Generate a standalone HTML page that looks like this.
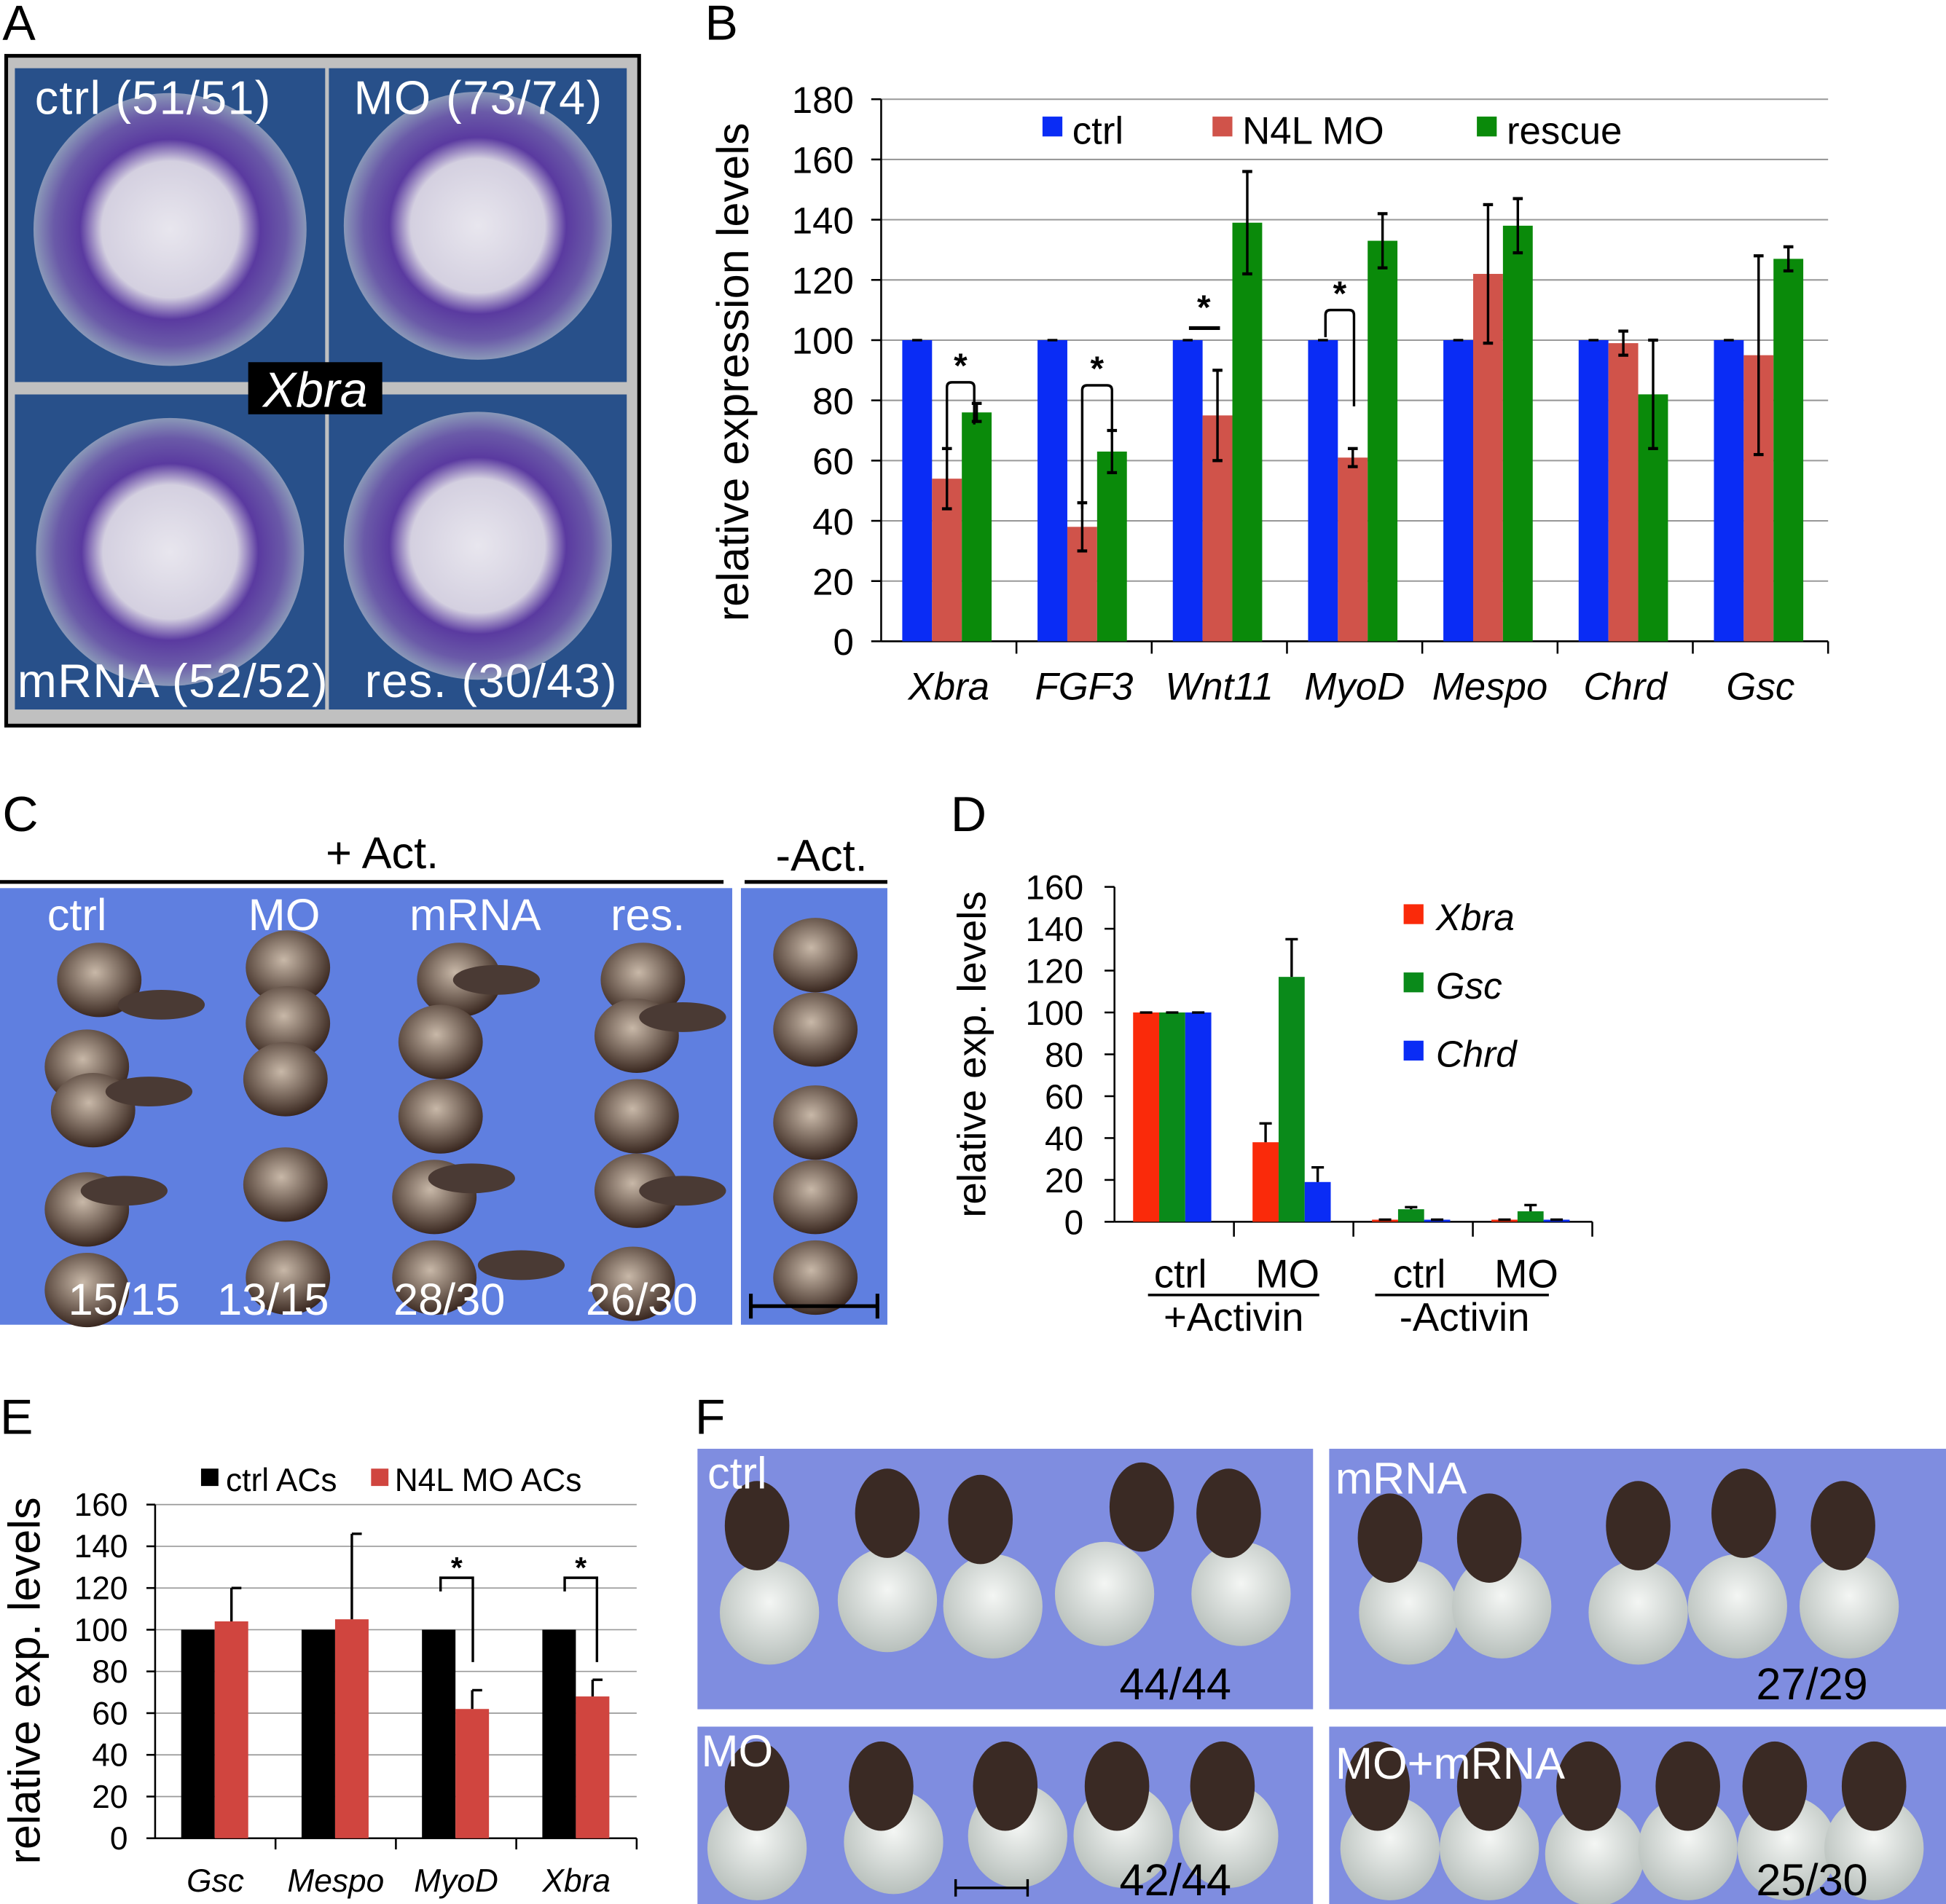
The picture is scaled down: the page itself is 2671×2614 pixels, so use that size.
<!DOCTYPE html>
<html><head><meta charset="utf-8"><style>
html,body{margin:0;padding:0;background:#fff;}
svg{display:block;font-family:"Liberation Sans",Arial,sans-serif;}
</style></head><body>
<svg id="fig" width="2671" height="2614" viewBox="0 0 1568 1535" preserveAspectRatio="none" xmlns="http://www.w3.org/2000/svg">
<defs>
<radialGradient id="embA" cx="50%" cy="50%" r="50%">
<stop offset="0%" stop-color="#e8e6ee"/><stop offset="50%" stop-color="#d4d0e0"/><stop offset="66%" stop-color="#5a3aa0"/><stop offset="85%" stop-color="#6a5aa8"/><stop offset="100%" stop-color="#8a98b8"/></radialGradient>
<radialGradient id="egg" cx="45%" cy="40%" r="60%"><stop offset="0%" stop-color="#c8b8a8"/><stop offset="100%" stop-color="#3a2820"/></radialGradient>
<radialGradient id="wht" cx="50%" cy="40%" r="60%"><stop offset="0%" stop-color="#f4f6f4"/><stop offset="100%" stop-color="#b8c0bc"/></radialGradient>
</defs>
<g id="panel-letters" font-size="40" fill="#000">
<text x="2" y="32">A</text>
<text x="568" y="32">B</text>
<text x="2" y="670">C</text>
<text x="766" y="670">D</text>
<text x="0" y="1156">E</text>
<text x="560" y="1156">F</text>
</g>
<g id="panelA">
<rect x="5" y="45" width="510" height="540" fill="#c0c0c0" stroke="#000" stroke-width="3"/>
<rect x="12" y="55" width="250" height="253" fill="#28508a"/>
<rect x="265" y="55" width="240" height="253" fill="#28508a"/>
<rect x="12" y="318" width="250" height="254" fill="#28508a"/>
<rect x="265" y="318" width="240" height="254" fill="#28508a"/>
<circle cx="137" cy="185" r="110" fill="url(#embA)"/>
<circle cx="385" cy="182" r="108" fill="url(#embA)"/>
<circle cx="137" cy="445" r="108" fill="url(#embA)"/>
<circle cx="385" cy="440" r="108" fill="url(#embA)"/>
<g fill="#fff" font-size="38">
<text x="28" y="92" textLength="190">ctrl (51/51)</text>
<text x="285" y="92" textLength="200">MO (73/74)</text>
<text x="14" y="562" textLength="250">mRNA (52/52)</text>
<text x="294" y="562" textLength="203">res. (30/43)</text>
</g>
<rect x="200" y="292" width="108" height="42" fill="#000"/>
<text x="254" y="328" fill="#fff" font-size="40" font-style="italic" text-anchor="middle">Xbra</text>
</g>
<g id="panelC">
<text x="308" y="700" font-size="36" text-anchor="middle">+ Act.</text>
<line x1="0" y1="711" x2="583" y2="711" stroke="#000" stroke-width="3"/>
<text x="662" y="702" font-size="36" text-anchor="middle">-Act.</text>
<line x1="600" y1="711" x2="715" y2="711" stroke="#000" stroke-width="3"/>
<rect x="0" y="716" width="590" height="352" fill="#5f7fe0"/>
<rect x="597" y="716" width="118" height="352" fill="#5f7fe0"/>
<g id="c-embryos" fill="url(#egg)"></g>
<line x1="605" y1="1053" x2="707" y2="1053" stroke="#000" stroke-width="3"/>
<line x1="605" y1="1043" x2="605" y2="1063" stroke="#000" stroke-width="3"/>
<line x1="707" y1="1043" x2="707" y2="1063" stroke="#000" stroke-width="3"/>
<g fill="#fff" font-size="36">
<text x="38" y="750">ctrl</text><text x="200" y="750">MO</text><text x="330" y="750">mRNA</text><text x="492" y="750">res.</text>
<text x="55" y="1060">15/15</text><text x="175" y="1060">13/15</text><text x="317" y="1060">28/30</text><text x="472" y="1060">26/30</text>
</g>
</g>
<g id="panelF">
<rect x="562" y="1168" width="496" height="210" fill="#7f8de0"/>
<rect x="1071" y="1168" width="497" height="210" fill="#7f8de0"/>
<rect x="562" y="1392" width="496" height="143" fill="#7f8de0"/>
<rect x="1071" y="1392" width="497" height="143" fill="#7f8de0"/>
<g id="f-embryos"></g>
<line x1="770" y1="1522" x2="828" y2="1522" stroke="#000" stroke-width="2"/>
<line x1="770" y1="1515" x2="770" y2="1529" stroke="#000" stroke-width="2"/>
<line x1="828" y1="1515" x2="828" y2="1529" stroke="#000" stroke-width="2"/>
<g fill="#fff" font-size="36"><text x="570" y="1200">ctrl</text><text x="1076" y="1204">mRNA</text><text x="565" y="1424">MO</text><text x="1076" y="1434">MO+mRNA</text></g>
<g fill="#000" font-size="36"><text x="902" y="1370">44/44</text><text x="1415" y="1370">27/29</text><text x="902" y="1528">42/44</text><text x="1415" y="1528">25/30</text></g>
</g>
<g id="chartB"></g>
<g id="chartD"></g>
<g id="chartE"></g>
</svg>
<script>
// Chart B data
const bCats = ["Xbra","FGF3","Wnt11","MyoD","Mespo","Chrd","Gsc"];
const bCtrl = [100,100,100,100,100,100,100];
const bMO = [54,38,75,61,122,99,95];
const bMOErr = [10,8,15,3,23,4,33];
const bRes = [76,63,139,133,138,82,127];
const bResErr = [3,7,17,9,9,18,4];
const bTicks = [0,20,40,60,80,100,120,140,160,180];
const bSeries = ["ctrl","N4L MO","rescue"];
// Chart D data
const dCats = ["ctrl","MO","ctrl","MO"];
const dXbra = [100,38,1,1];
const dXbraErr = [0,9,0,0];
const dGsc = [100,117,6,5];
const dGscErr = [0,18,1,3];
const dChrd = [100,19,1,1];
const dChrdErr = [0,7,0,0];
const dTicks = [0,20,40,60,80,100,120,140,160];
// Chart E data
const eCats = ["Gsc","Mespo","MyoD","Xbra"];
const eCtrl = [100,100,100,100];
const eMO = [104,105,62,68];
const eMOErr = [16,41,9,8];
const eTicks = [0,20,40,60,80,100,120,140,160];

const NS="http://www.w3.org/2000/svg";
function mk(parent,tag,attrs,text){const e=document.createElementNS(NS,tag);for(const k in attrs)e.setAttribute(k,attrs[k]);if(text!==undefined)e.textContent=text;parent.appendChild(e);return e;}
function errBar(g,x,y1,y2,cap){mk(g,"line",{x1:x,y1:y1,x2:x,y2:y2,stroke:"#000","stroke-width":2});mk(g,"line",{x1:x-cap,y1:y1,x2:x+cap,y2:y1,stroke:"#000","stroke-width":2.5});mk(g,"line",{x1:x-cap,y1:y2,x2:x+cap,y2:y2,stroke:"#000","stroke-width":2.5});}

(function(){
const g=document.getElementById("chartB");
const x0=710,x1=1473,yB=517,yT=80,max=180;
const y=v=>yB-(v/max)*(yB-yT);
const gw=(x1-x0)/bCats.length, bw=24;
bTicks.forEach(t=>{
 if(t>0){const gl=mk(g,"line",{x1:x0,y1:y(t),x2:x1,y2:y(t),stroke:"#999","stroke-width":1.2});
 
 }
 const tl=mk(g,"text",{x:x0-22,y:y(t)+11,"font-size":30,"text-anchor":"end"},t);
 
 
 mk(g,"line",{x1:x0-8,y1:y(t),x2:x0,y2:y(t),stroke:"#000","stroke-width":1.5});
});
mk(g,"line",{x1:x0,y1:yT,x2:x0,y2:yB,stroke:"#000","stroke-width":1.5});
mk(g,"line",{x1:x0,y1:yB,x2:x1,y2:yB,stroke:"#000","stroke-width":1.5});
const yl=mk(g,"text",{transform:"translate(603,300) rotate(-90)","font-size":36,"text-anchor":"middle"},"relative expression levels");


const cols=["#0a2cf5","#d0534a","#0a8a0a"];
const vals=[bCtrl,bMO,bRes], errs=[null,bMOErr,bResErr];
bCats.forEach((c,i)=>{
 const gs=x0+i*gw+17;
 mk(g,"line",{x1:x0+(i+1)*gw,y1:yB,x2:x0+(i+1)*gw,y2:yB+10,stroke:"#000","stroke-width":1.5});
 vals.forEach((arr,s)=>{
  const bx=gs+s*bw;
  const r=mk(g,"rect",{x:bx,y:y(arr[i]),width:bw,height:yB-y(arr[i]),fill:cols[s]});
  
  
  if(errs[s]) errBar(g,bx+bw/2,y(arr[i]+errs[s][i]),y(arr[i]-errs[s][i]),4);
  else mk(g,"line",{x1:bx+bw/2-4,y1:y(arr[i]),x2:bx+bw/2+4,y2:y(arr[i]),stroke:"#000","stroke-width":2});
 });
 const tl=mk(g,"text",{x:x0+(i+0.5)*gw,y:564,"font-size":31,"font-style":"italic","text-anchor":"middle"},c);
 
 
});
function brk(xa,ya,xb,yb,top){const p=`M${xa},${ya} L${xa},${top+4} Q${xa},${top} ${xa+4},${top} L${xb-4},${top} Q${xb},${top} ${xb},${top+4} L${xb},${yb}`;mk(g,"path",{d:p,fill:"none",stroke:"#000","stroke-width":2});mk(g,"text",{x:(xa+xb)/2,y:top-4,"font-size":28,"text-anchor":"middle","font-weight":"bold"},"*");}
brk(763,y(64),785,y(72),y(86));
brk(872,y(44),896,y(67),y(85));
mk(g,"line",{x1:958,y1:y(104),x2:983,y2:y(104),stroke:"#000","stroke-width":3});
mk(g,"text",{x:970,y:y(107),"font-size":28,"text-anchor":"middle","font-weight":"bold"},"*");
brk(1068,y(101),1091,y(78),y(110));
const lx=[840,977,1190];
bSeries.forEach((s,k)=>{
 mk(g,"rect",{x:lx[k],y:94,width:16,height:16,fill:cols[k]});
 const t=mk(g,"text",{x:lx[k]+24,y:116,"font-size":31},s);
 
 
});
})();

(function(){
const g=document.getElementById("chartD");
const x0=898,x1=1283,yB=985,yT=715,max=160;
const y=v=>yB-(v/max)*(yB-yT);
const gw=(x1-x0)/dCats.length,bw=21;
dTicks.forEach(t=>{
 const tl=mk(g,"text",{x:x0-25,y:y(t)+10,"font-size":28,"text-anchor":"end"},t);
 
 
 mk(g,"line",{x1:x0-8,y1:y(t),x2:x0,y2:y(t),stroke:"#000","stroke-width":1.5});
});
mk(g,"line",{x1:x0,y1:yT,x2:x0,y2:yB,stroke:"#000","stroke-width":1.5});
mk(g,"line",{x1:x0,y1:yB,x2:x1,y2:yB,stroke:"#000","stroke-width":1.5});
const yl=mk(g,"text",{transform:"translate(794,850) rotate(-90)","font-size":32,"text-anchor":"middle"},"relative exp. levels");


const cols=["#fa2a0a","#0a8a1a","#0a2cf5"];const names=["Xbra","Gsc","Chrd"];
const vals=[dXbra,dGsc,dChrd],errs=[dXbraErr,dGscErr,dChrdErr];
dCats.forEach((c,i)=>{
 mk(g,"line",{x1:x0+(i+1)*gw,y1:yB,x2:x0+(i+1)*gw,y2:yB+12,stroke:"#000","stroke-width":1.5});
 const gs=x0+i*gw+15;
 vals.forEach((arr,s)=>{
  const bx=gs+s*bw;
  const r=mk(g,"rect",{x:bx,y:y(arr[i]),width:bw,height:yB-y(arr[i]),fill:cols[s]});
  
  
  const e=errs[s][i];
  mk(g,"line",{x1:bx+bw/2,y1:y(arr[i]+e),x2:bx+bw/2,y2:y(arr[i]),stroke:"#000","stroke-width":2});
  mk(g,"line",{x1:bx+bw/2-5,y1:y(arr[i]+e),x2:bx+bw/2+5,y2:y(arr[i]+e),stroke:"#000","stroke-width":2});
 });
 const tl=mk(g,"text",{x:x0+(i+0.5)*gw+(i%2?-5:5),y:1038,"font-size":32,"text-anchor":"middle"},c);
 
 
});
mk(g,"line",{x1:925,y1:1044,x2:1063,y2:1044,stroke:"#000","stroke-width":2});
mk(g,"text",{x:994,y:1073,"font-size":32,"text-anchor":"middle"},"+Activin");
mk(g,"line",{x1:1108,y1:1044,x2:1248,y2:1044,stroke:"#000","stroke-width":2});
mk(g,"text",{x:1180,y:1073,"font-size":32,"text-anchor":"middle"},"-Activin");
names.forEach((n,k)=>{
 mk(g,"rect",{x:1131,y:729+k*55,width:16,height:16,fill:cols[k]});
 const t=mk(g,"text",{x:1157,y:750+k*55,"font-size":30,"font-style":"italic"},n);
 
 
});
})();

(function(){
const g=document.getElementById("chartE");
const x0=125,x1=513,yB=1482,yT=1213,max=160;
const y=v=>yB-(v/max)*(yB-yT);
const gw=(x1-x0)/eCats.length,bw=27;
eTicks.forEach(t=>{
 if(t>0)mk(g,"line",{x1:x0,y1:y(t),x2:x1,y2:y(t),stroke:"#999","stroke-width":1});
 const tl=mk(g,"text",{x:x0-22,y:y(t)+9,"font-size":26,"text-anchor":"end"},t);
 
 
 mk(g,"line",{x1:x0-7,y1:y(t),x2:x0,y2:y(t),stroke:"#000","stroke-width":1.5});
});
mk(g,"line",{x1:x0,y1:yT,x2:x0,y2:yB,stroke:"#000","stroke-width":1.5});
mk(g,"line",{x1:x0,y1:yB,x2:x1,y2:yB,stroke:"#000","stroke-width":1.5});
const yl=mk(g,"text",{transform:"translate(32,1355) rotate(-90)","font-size":36,"text-anchor":"middle"},"relative exp.  levels");


eCats.forEach((c,i)=>{
 mk(g,"line",{x1:x0+(i+1)*gw,y1:yB,x2:x0+(i+1)*gw,y2:yB+9,stroke:"#000","stroke-width":1.5});
 const gs=x0+i*gw+21;
 const r1=mk(g,"rect",{x:gs,y:y(eCtrl[i]),width:bw,height:yB-y(eCtrl[i]),fill:"#000"});
 
 
 const r2=mk(g,"rect",{x:gs+bw,y:y(eMO[i]),width:bw,height:yB-y(eMO[i]),fill:"#d0453f"});
 
 
 const cx=gs+bw*1.5;
 mk(g,"line",{x1:cx,y1:y(eMO[i]+eMOErr[i]),x2:cx,y2:y(eMO[i]),stroke:"#000","stroke-width":2});
 mk(g,"line",{x1:cx,y1:y(eMO[i]+eMOErr[i]),x2:cx+8,y2:y(eMO[i]+eMOErr[i]),stroke:"#000","stroke-width":2});
 const tl=mk(g,"text",{x:x0+(i+0.5)*gw,y:1525,"font-size":26,"font-style":"italic","text-anchor":"middle"},c);
 
 
});
[[355,381],[455,481]].forEach(([a,b])=>{mk(g,"path",{d:`M${a},1283 L${a},1272 L${b},1272 L${b},1340`,fill:"none",stroke:"#000","stroke-width":2});mk(g,"text",{x:(a+b)/2,y:1272,"font-size":24,"text-anchor":"middle","font-weight":"bold"},"*");});
mk(g,"rect",{x:162,y:1184,width:14,height:14,fill:"#000"});
const l1=mk(g,"text",{x:182,y:1202,"font-size":26},"ctrl ACs");


mk(g,"rect",{x:299,y:1184,width:14,height:14,fill:"#d0453f"});
const l2=mk(g,"text",{x:318,y:1202,"font-size":26},"N4L MO ACs");


})();

(function(){
const c=document.getElementById("c-embryos");
const cols=[[80,790],[70,860],[75,895],[70,975],[70,1040],[232,780],[232,825],[230,870],[230,955],[232,1030],[370,790],[355,840],[355,900],[350,965],[350,1030],[518,790],[513,835],[513,900],[513,960],[510,1035],[657,770],[657,830],[657,905],[657,965],[657,1030]];
cols.forEach(([x,yy])=>mk(c,"ellipse",{cx:x,cy:yy,rx:34,ry:30,fill:"url(#egg)"}));
[[130,810],[120,880],[100,960],[400,790],[380,950],[420,1020],[550,820],[550,960]].forEach(([x,yy])=>mk(c,"ellipse",{cx:x,cy:yy,rx:35,ry:12,fill:"#4a3a34"}));
const f=document.getElementById("f-embryos");
const ps=[[620,1300,610,1230],[715,1290,715,1220],[800,1295,790,1225],[890,1285,920,1215],[1000,1285,990,1220],[1135,1300,1120,1240],[1210,1295,1200,1240],[1320,1300,1320,1230],[1400,1295,1405,1220],[1490,1295,1485,1230],
[610,1490,610,1440],[720,1485,710,1440],[820,1480,810,1440],[905,1480,900,1440],[990,1480,985,1440],[1120,1490,1110,1440],[1200,1490,1200,1440],[1285,1495,1280,1440],[1360,1490,1360,1440],[1440,1490,1430,1440],[1510,1490,1510,1440]];
ps.forEach(([a,b,cx,cy])=>{mk(f,"ellipse",{cx:a,cy:b,rx:40,ry:42,fill:"url(#wht)"});mk(f,"ellipse",{cx:cx,cy:cy,rx:26,ry:36,fill:"#3a2a24"});});
})();
</script>
</body></html>
